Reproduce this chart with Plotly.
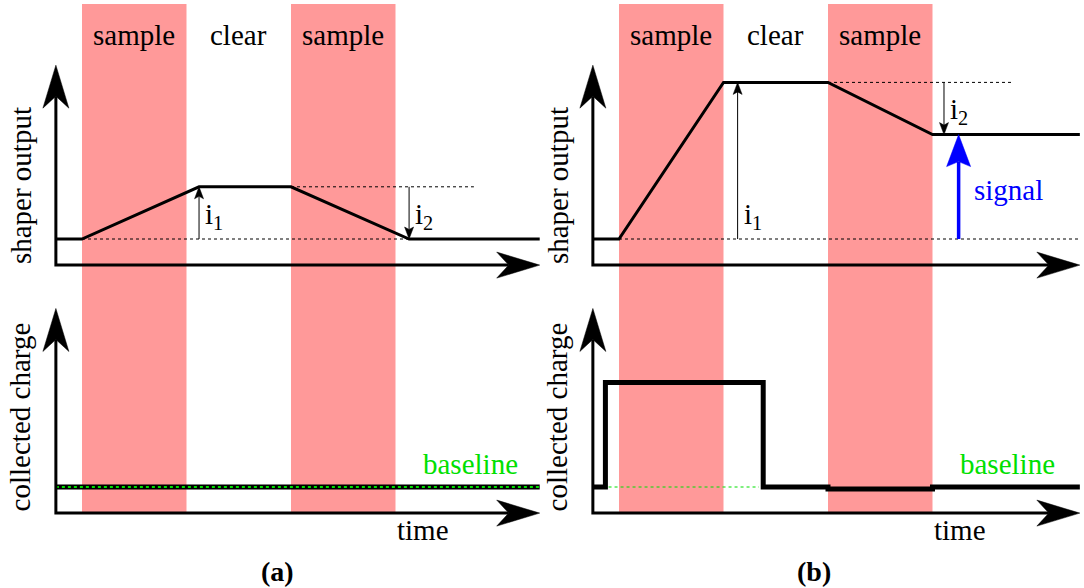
import plotly.graph_objects as go

# ---------------- data (time in sampling-phase units, signal in arbitrary units) -------------
phase_labels = ["sample", "clear", "sample"]
phase_center = [0.5, 1.5, 2.5]
band_start = [0.0, 2.0]
band_end = [1.0, 3.0]

# (a) no signal: shaper output ramps up in sample 1 and back down in sample 2
shaper_a_t = [-0.25, 0.0, 1.12, 2.0, 3.13, 4.38]
shaper_a_v = [0, 0, 1, 1, 0, 0]
# (b) with signal
shaper_b_t = [-0.25, 0.0, 1.0, 2.0, 3.0, 4.41]
shaper_b_v = [0, 0, 3, 3, 2, 2]

charge_a_t = [-0.25, 4.38]
charge_a_v = [0, 0]
charge_b_t = [-0.25, -0.13, -0.13, 1.38, 1.38, 2.0, 2.0, 3.0, 3.0, 4.41]
charge_b_v = [0, 0, 2, 2, 0, 0, -0.04, -0.04, 0, 0]

i1_t = [1.12, 1.135]
i1_from = [0, 0]
i1_to = [1, 3]
i2_t = [3.13, 3.11]
i2_from = [1, 3]
i2_to = [0, 2]
signal_t = 3.25
signal_from = 0
signal_to = 2

plateau_guide_start = [2.0, 2.0]
plateau_guide_end = [3.75, 3.76]
plateau_level = [1, 3]
base_guide_end = [3.13, 4.41]
green_guide_b = [-0.1, 1.34]

axis_origin_t = -0.25
axis_origin_v = -0.5
axis_tip_top = 3.33
axis_tip_bottom = 3.42
axis_tip_time = [4.38, 4.41]

# ---------------- geometry ----------------
W, H = 1084, 588
U = 104.5   # px per time unit
V = 52.2    # px per signal unit
SERIF = "Liberation Serif, Times New Roman, serif"
GREEN = "#00e000"
BAND = "#ff9999"

fig = go.Figure()


def add_line(xs, ys, xa, ya, color="black", width=3, dash=None):
    fig.add_trace(go.Scatter(x=xs, y=ys, xaxis=xa, yaxis=ya, mode="lines",
                             line=dict(color=color, width=width, dash=dash),
                             hoverinfo="skip", showlegend=False))


def head_pts(tx, ty, dx, dy, L, Wd, N):
    nx, ny = -dy, dx
    pts = [(0, 0), (-L * dx + Wd * nx, -L * dy + Wd * ny), (-(L - N) * dx, -(L - N) * dy),
           (-L * dx - Wd * nx, -L * dy - Wd * ny), (0, 0)]
    xs = [tx + p[0] / U for p in pts]
    ys = [ty + p[1] / V for p in pts]
    notch = (tx - (L - N) * dx / U, ty - (L - N) * dy / V)
    return xs, ys, notch


def add_head(xs, ys, xa, ya, color="black"):
    fig.add_trace(go.Scatter(x=xs, y=ys, xaxis=xa, yaxis=ya, mode="lines", fill="toself",
                             fillcolor=color, line=dict(color=color, width=0.5),
                             hoverinfo="skip", showlegend=False))


def v_arrow(t, v0, v1, xa, ya, width, L, Wd, N, color="black"):
    d = 1 if v1 > v0 else -1
    xs, ys, notch = head_pts(t, v1, 0, d, L, Wd, N)
    add_line([t, t], [v0, notch[1]], xa, ya, color=color, width=width)
    add_head(xs, ys, xa, ya, color)


def axes_arrows(xa, ya, ytip, xtip):
    L, Wd, N = 43, 13, 12
    hx, hy, ny = head_pts(axis_origin_t, ytip, 0, 1, L, Wd, N)
    vx, vy, nx = head_pts(xtip, axis_origin_v, 1, 0, L, Wd, N)
    add_line([axis_origin_t, axis_origin_t, nx[0]], [ny[1], axis_origin_v, axis_origin_v],
             xa, ya, width=3)
    add_head(hx, hy, xa, ya)
    add_head(vx, vy, xa, ya)


panels_top = [("x", "y"), ("x2", "y2")]
panels_bot = [("x3", "y3"), ("x4", "y4")]

# top: shaper output
for k, ((xa, ya), st, sv) in enumerate(zip(panels_top, [shaper_a_t, shaper_b_t],
                                            [shaper_a_v, shaper_b_v])):
    add_line([plateau_guide_start[k], plateau_guide_end[k]], [plateau_level[k]] * 2, xa, ya,
             width=1, dash="dot")
    add_line([0.0, base_guide_end[k]], [0, 0], xa, ya, width=1, dash="dot")
    add_line(st, sv, xa, ya, width=3)
    axes_arrows(xa, ya, axis_tip_top, axis_tip_time[k])
    v_arrow(i1_t[k], i1_from[k], i1_to[k], xa, ya, 1, 12, 4.5, 2.5)
    v_arrow(i2_t[k], i2_from[k], i2_to[k], xa, ya, 1, 12, 4.5, 2.5)

v_arrow(signal_t, signal_from, signal_to, "x2", "y2", 3.5, 32, 12, 5, color="#0000ff")

# bottom: collected charge
add_line(charge_a_t, charge_a_v, "x3", "y3", width=5)
add_line(charge_a_t, charge_a_v, "x3", "y3", color=GREEN, width=2, dash="dot")
add_line(green_guide_b, [0, 0], "x4", "y4", color=GREEN, width=1.2, dash="dot")
add_line(charge_b_t, charge_b_v, "x4", "y4", width=5)
for k, (xa, ya) in enumerate(panels_bot):
    axes_arrows(xa, ya, axis_tip_bottom, axis_tip_time[k])

# ---------------- shaded sample bands ----------------
shapes = []
for xa in ["x", "x2"]:
    for s, e in zip(band_start, band_end):
        shapes.append(dict(type="rect", xref=xa, yref="paper", x0=s, x1=e,
                           y0=1 - 513 / H, y1=1 - 4 / H, fillcolor=BAND,
                           line=dict(width=0), layer="below"))

# ---------------- text ----------------
ann = []
FS = 29
txt = dict(family=SERIF, size=FS, color="black")
for xa, ya in panels_top:
    for lab, c in zip(phase_labels, phase_center):
        ann.append(dict(x=c, y=3.9, xref=xa, yref=ya, text=lab, showarrow=False, font=txt))
    ann.append(dict(x=-0.59, y=1.02, xref=xa, yref=ya, text="shaper output", textangle=-90,
                    showarrow=False, font=txt))
for k, (xa, ya) in enumerate(panels_top):
    ann.append(dict(x=i1_t[k] + 0.04, y=0.45, xref=xa, yref=ya,
                    text="i<sub>1</sub>", showarrow=False, xanchor="left", font=txt))
    ann.append(dict(x=i2_t[k] + 0.04, y=(0.45 if k == 0 else 2.45), xref=xa, yref=ya,
                    text="i<sub>2</sub>", showarrow=False, xanchor="left", font=txt))
ann.append(dict(x=3.73, y=0.94, xref="x2", yref="y2", text="signal", showarrow=False,
                font=dict(family=SERIF, size=FS, color="#0000ff")))
for k, (xa, ya) in enumerate(panels_bot):
    ann.append(dict(x=-0.59, y=1.34, xref=xa, yref=ya, text="collected charge", textangle=-90,
                    showarrow=False, font=txt))
    ann.append(dict(x=3.72, y=0.45, xref=xa, yref=ya, text="baseline", showarrow=False,
                    font=dict(family=SERIF, size=FS, color=GREEN)))
    ann.append(dict(x=3.26, y=-0.82, xref=xa, yref=ya, text="time", showarrow=False, font=txt))
    ann.append(dict(x=1.87, y=-1.62, xref=xa, yref=ya, text="<b>(" + "ab"[k] + ")</b>",
                    showarrow=False, font=dict(family=SERIF, size=28, color="black")))

# ---------------- layout ----------------
def xr(o, a, b):
    return [(a - o) / U, (b - o) / U]


def yr(o, top, bot):
    return [(o - bot) / V, (o - top) / V]


ax_common = dict(visible=False, fixedrange=True, showgrid=False, zeroline=False)
split = 540
ydiv = 290
fig.update_layout(
    width=W, height=H, margin=dict(l=0, r=0, t=0, b=0),
    paper_bgcolor="white", plot_bgcolor="rgba(0,0,0,0)",
    xaxis=dict(domain=[0, split / W], range=xr(82, 0, split), anchor="y", **ax_common),
    xaxis2=dict(domain=[split / W, 1], range=xr(619, split, W), anchor="y2", **ax_common),
    xaxis3=dict(domain=[0, split / W], range=xr(82, 0, split), anchor="y3", **ax_common),
    xaxis4=dict(domain=[split / W, 1], range=xr(619, split, W), anchor="y4", **ax_common),
    yaxis=dict(domain=[1 - ydiv / H, 1], range=yr(239, 0, ydiv), anchor="x", **ax_common),
    yaxis2=dict(domain=[1 - ydiv / H, 1], range=yr(239, 0, ydiv), anchor="x2", **ax_common),
    yaxis3=dict(domain=[0, 1 - ydiv / H], range=yr(487, ydiv, H), anchor="x3", **ax_common),
    yaxis4=dict(domain=[0, 1 - ydiv / H], range=yr(487, ydiv, H), anchor="x4", **ax_common),
    shapes=shapes, annotations=ann,
)

fig.write_html("out.html", config={"displayModeBar": False},
               post_script="document.body.style.margin='0';document.body.style.overflow='hidden';")
